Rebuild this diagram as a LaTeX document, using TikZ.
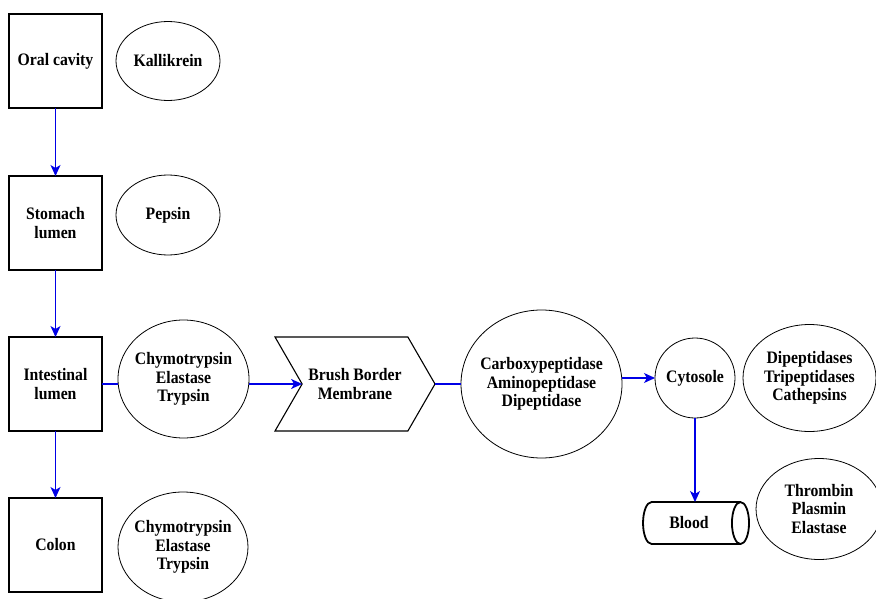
\documentclass[tikz,border=0pt]{standalone}
\usepackage{fontspec}
\setmainfont{Liberation Serif}[FakeStretch=0.9]
\usetikzlibrary{shapes.geometric,shapes.symbols,arrows.meta,positioning}
\definecolor{flowblue}{RGB}{0,0,230}

\begin{document}
\begin{tikzpicture}[x=1pt,y=-1pt,>={Stealth[length=11pt,width=10pt,inset=3pt]},
  every node/.style={font=\fontsize{17.5}{18.5}\selectfont\bfseries,align=center,outer sep=0pt},
  site/.style={draw,line width=1.1pt,minimum width=93pt,minimum height=94pt},
  enzyme/.style={draw,ellipse,line width=0.8pt,inner xsep=-6pt,inner ysep=0pt},
  flow/.style={draw=flowblue,line width=1.2pt}]
\useasboundingbox (0,0) rectangle (876,599);
% digestion sites
\node[site](oral) at (55.5,61){Oral cavity};
\node[site,below=68pt of oral](stomach){Stomach\\lumen};
\node[site,below=67pt of stomach](intestine){Intestinal\\lumen};
\node[site,below=67pt of intestine](colon){Colon};
% enzymes beside each site
\node[enzyme,minimum width=104pt,minimum height=79pt,right=14pt of oral](kallikrein){Kallikrein};
\node[enzyme,minimum width=104pt,minimum height=80pt,right=14pt of stomach,yshift=8pt](pepsin){Pepsin};
\node[enzyme,minimum width=131pt,minimum height=118pt,right=16pt of intestine,yshift=5pt](chymo){Chymotrypsin\\Elastase\\Trypsin};
\node[enzyme,minimum width=130pt,minimum height=110pt,right=16pt of colon,yshift=-2pt](chymocolon){Chymotrypsin\\Elastase\\Trypsin};
% absorption path
\node[draw,line width=1.1pt,signal,signal from=west,signal to=east,signal pointer angle=120,minimum width=160pt,minimum height=94pt](brush) at (355,384){Brush Border\\Membrane};
\node[enzyme,minimum width=161pt,minimum height=148pt,right=26pt of brush](border){Carboxypeptidase\\Aminopeptidase\\Dipeptidase};
\node[draw,circle,line width=0.8pt,inner sep=0pt,minimum size=80pt,right=33pt of border,yshift=6pt](cyto){Cytosole};
\node[enzyme,minimum width=133pt,minimum height=107pt,right=8pt of cyto](dipep){Dipeptidases\\Tripeptidases\\Cathepsins};
\node[draw,cylinder,line width=1.8pt,aspect=0.9,minimum width=42pt,minimum height=106pt,below=84pt of cyto,xshift=-6pt](blood){Blood};
\node[enzyme,minimum width=126pt,minimum height=101pt,right=7pt of blood,yshift=14pt](thrombin){Thrombin\\Plasmin\\Elastase};
% connectors
\draw[flow,->](oral)--(stomach);
\draw[flow,->](stomach)--(intestine);
\draw[flow,->](intestine)--(colon);
\draw[flow](intestine.east)--(intestine.east-|chymo.west);
\draw[flow,->](chymo.east|-brush.west)--(brush.west);
\draw[flow](brush.east)--(brush.east-|border.west);
\draw[flow,->](cyto.west-|border.east)--(cyto.west);
\draw[flow,->](cyto)--(cyto|-blood.north);
\end{tikzpicture}
\end{document}
